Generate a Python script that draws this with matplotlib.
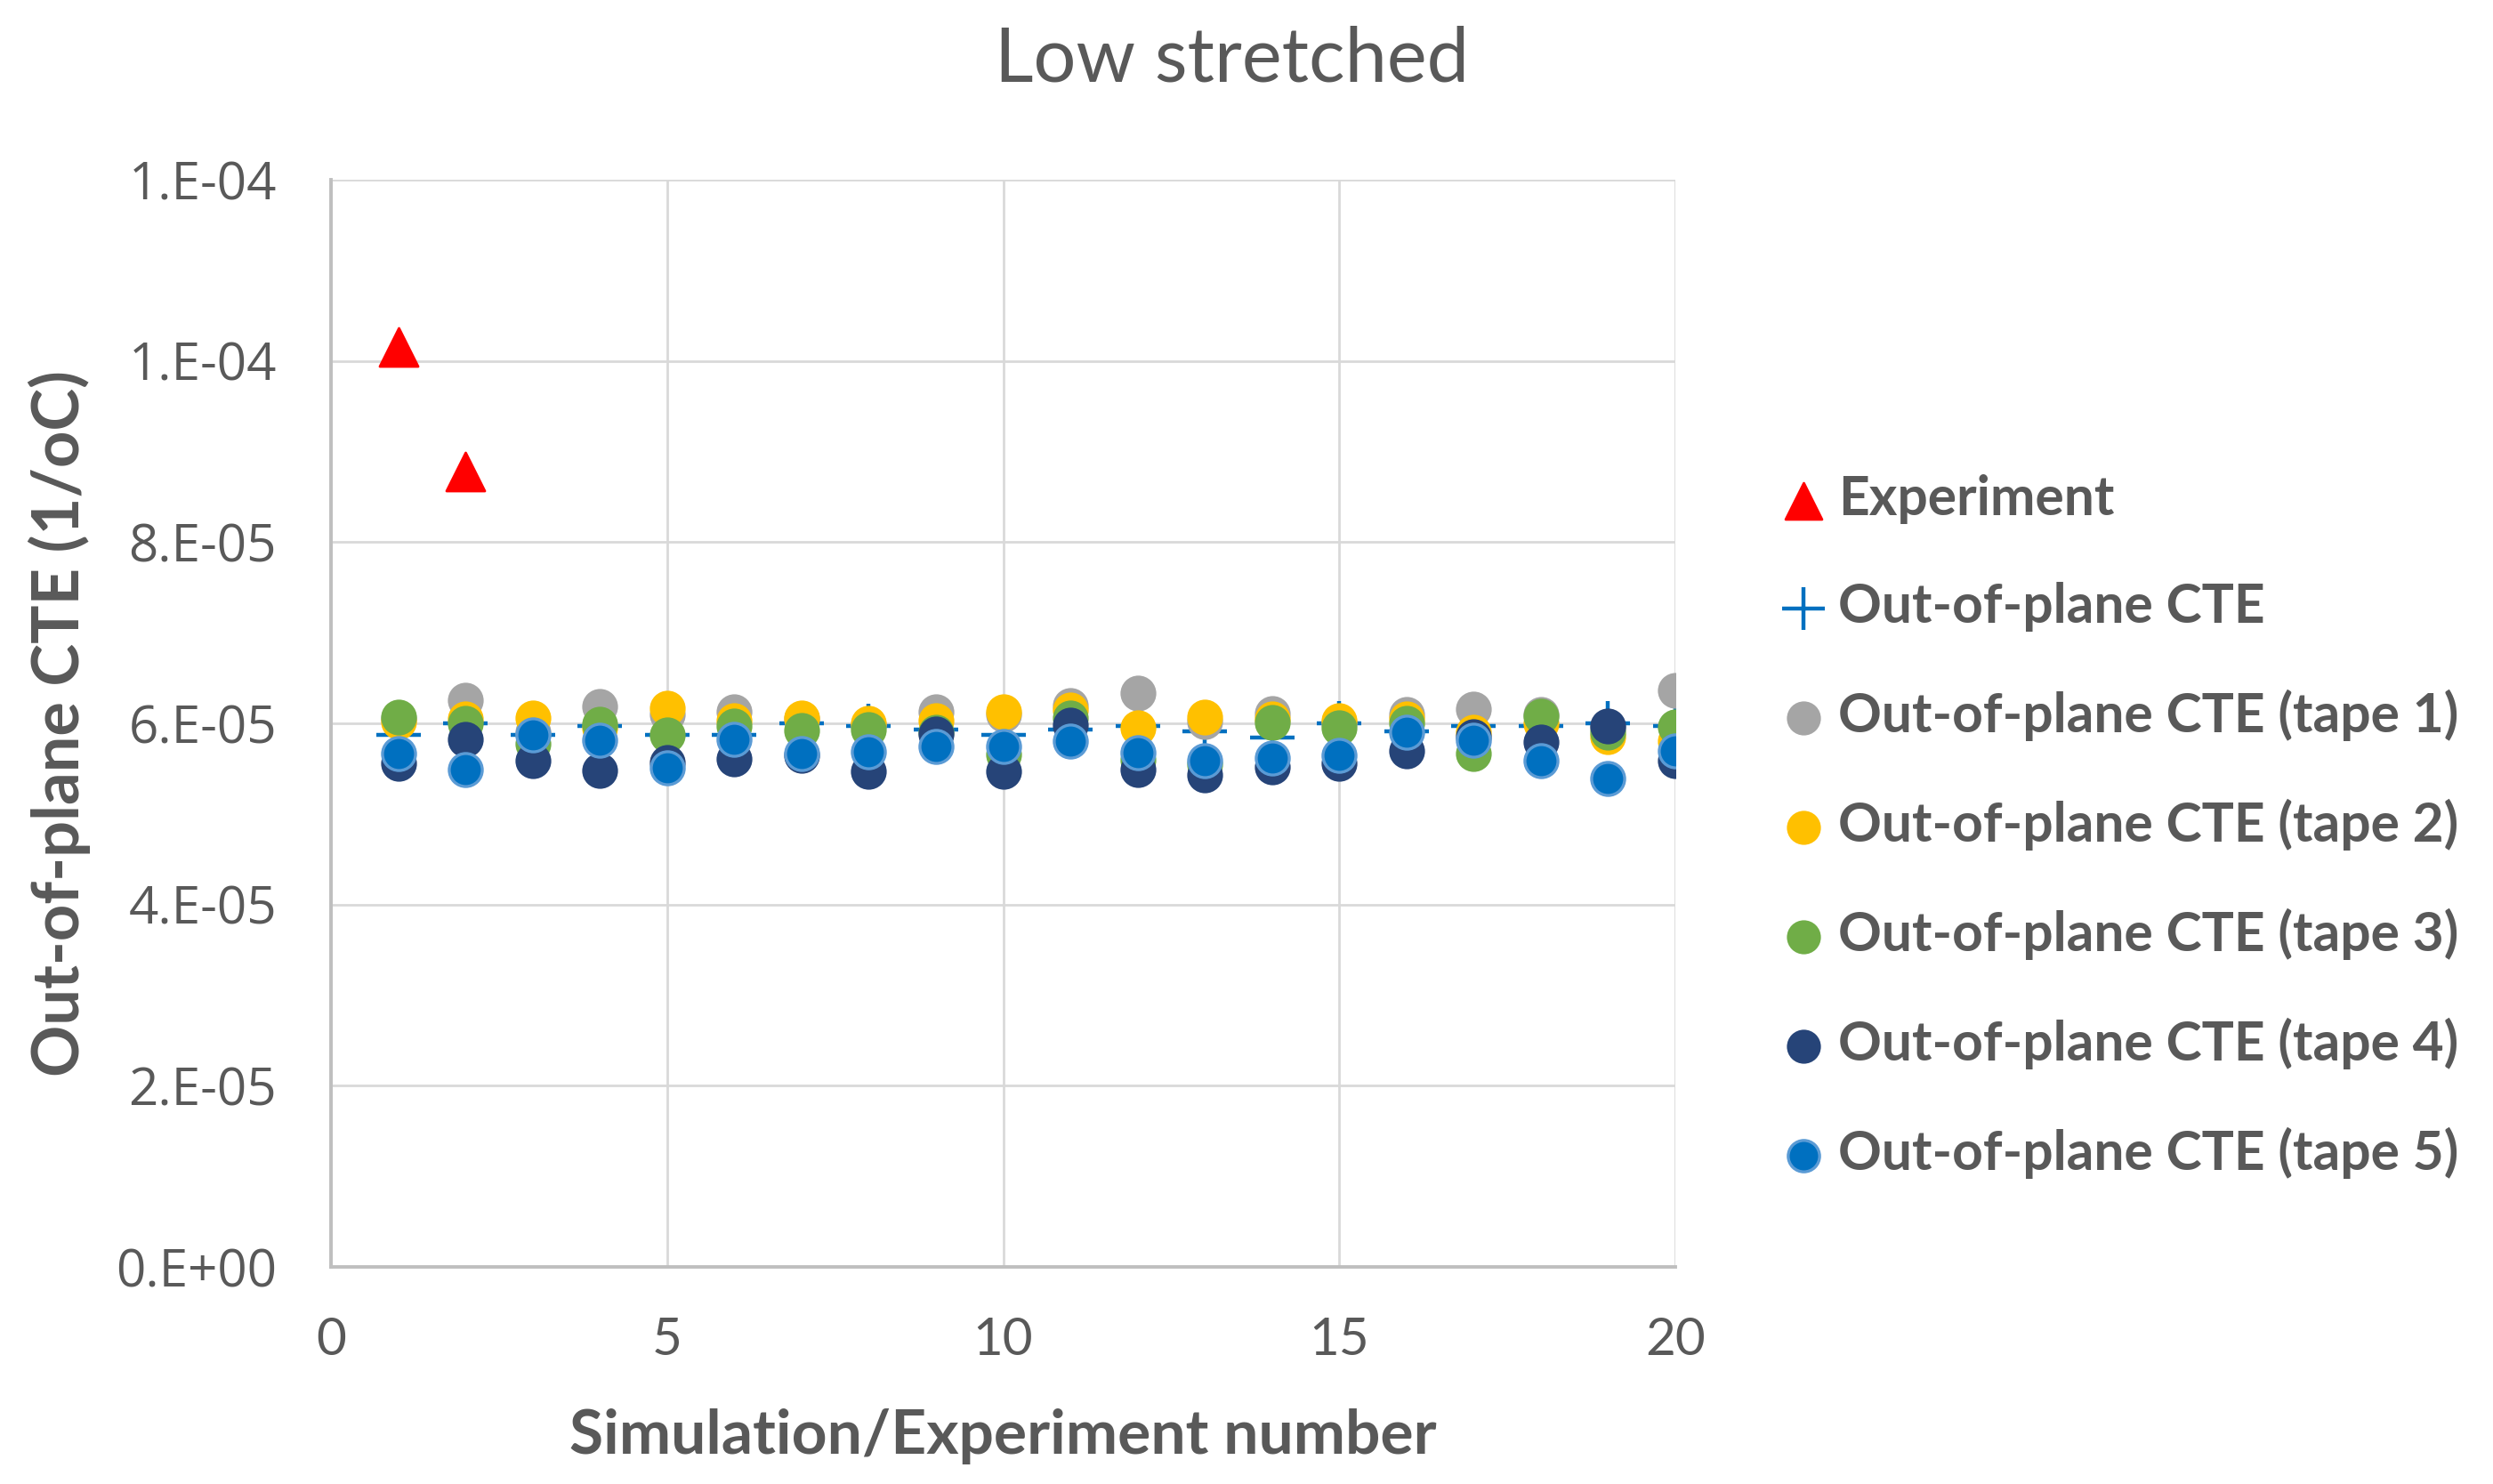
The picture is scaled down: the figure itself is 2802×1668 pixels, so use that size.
import matplotlib
matplotlib.use("Agg")
import matplotlib.pyplot as plt
from matplotlib.ticker import FuncFormatter, MultipleLocator

x_sim = list(range(1, 21))
x_exp = [1, 2]
experiment = [10.15e-5, 8.78e-5]
cte_mean = [5.87e-5, 6.00e-5, 5.87e-5, 5.97e-5, 5.87e-5, 5.87e-5, 6.00e-5, 5.97e-5, 5.93e-5, 5.87e-5,
            5.93e-5, 5.97e-5, 5.91e-5, 5.84e-5, 6.00e-5, 5.91e-5, 5.97e-5, 5.97e-5, 6.00e-5, 5.97e-5]
tape1 = [6.05e-5, 6.26e-5, 5.90e-5, 6.19e-5, 6.10e-5, 6.13e-5, 6.05e-5, 5.98e-5, 6.13e-5, 6.10e-5,
         6.20e-5, 6.33e-5, 6.02e-5, 6.11e-5, 6.00e-5, 6.10e-5, 6.16e-5, 6.10e-5, 5.95e-5, 6.36e-5]
tape2 = [6.02e-5, 6.05e-5, 6.06e-5, 5.95e-5, 6.17e-5, 6.03e-5, 6.06e-5, 6.00e-5, 6.03e-5, 6.13e-5,
         6.15e-5, 5.95e-5, 6.07e-5, 6.05e-5, 6.03e-5, 6.05e-5, 5.90e-5, 6.00e-5, 5.85e-5, 5.80e-5]
tape3 = [6.07e-5, 6.00e-5, 5.77e-5, 5.99e-5, 5.87e-5, 5.97e-5, 5.92e-5, 5.93e-5, 5.90e-5, 5.66e-5,
         6.06e-5, 5.60e-5, 5.55e-5, 6.01e-5, 5.95e-5, 6.00e-5, 5.67e-5, 6.08e-5, 5.90e-5, 5.96e-5]
tape4 = [5.56e-5, 5.82e-5, 5.59e-5, 5.48e-5, 5.57e-5, 5.61e-5, 5.65e-5, 5.47e-5, 5.88e-5, 5.47e-5,
         5.98e-5, 5.49e-5, 5.43e-5, 5.52e-5, 5.56e-5, 5.70e-5, 5.85e-5, 5.79e-5, 5.97e-5, 5.59e-5]
tape5 = [5.67e-5, 5.49e-5, 5.87e-5, 5.81e-5, 5.51e-5, 5.82e-5, 5.67e-5, 5.69e-5, 5.74e-5, 5.74e-5,
         5.80e-5, 5.68e-5, 5.59e-5, 5.62e-5, 5.65e-5, 5.90e-5, 5.81e-5, 5.59e-5, 5.39e-5, 5.70e-5]

labels = ["Experiment", "Out-of-plane CTE", "Out-of-plane CTE (tape 1)", "Out-of-plane CTE (tape 2)",
          "Out-of-plane CTE (tape 3)", "Out-of-plane CTE (tape 4)", "Out-of-plane CTE (tape 5)"]

plt.rcParams['font.family'] = ['Lato', 'DejaVu Sans']
txt = '#595959'

fig = plt.figure(figsize=(14.01, 8.34), dpi=200)
ax = fig.add_axes([0.1328, 0.1463, 0.5392, 0.7326])

s_c = 210
ax.scatter(x_exp, experiment, marker='^', s=240, color='#FF0000', label=labels[0], zorder=3)
ax.scatter(x_sim, cte_mean, marker='+', s=330, color='#0070C0', linewidths=1.6, label=labels[1], zorder=3)
ax.scatter(x_sim, tape1, s=s_c, color='#A5A5A5', label=labels[2], zorder=4, linewidths=0)
ax.scatter(x_sim, tape2, s=s_c, color='#FFC000', label=labels[3], zorder=4, linewidths=0)
ax.scatter(x_sim, tape3, s=s_c, color='#70AD47', label=labels[4], zorder=4, linewidths=0)
ax.scatter(x_sim, tape4, s=s_c, color='#264478', label=labels[5], zorder=4, linewidths=0)
ax.scatter(x_sim, tape5, s=s_c * 0.85, color='#0070C0', edgecolors='#5B9BD5', linewidths=1.2,
           label=labels[6], zorder=4)

ax.set_xlim(0, 20)
ax.set_ylim(0, 1.2e-4)
ax.xaxis.set_major_locator(MultipleLocator(5))
ax.yaxis.set_major_locator(MultipleLocator(2e-5))
ax.yaxis.set_major_formatter(FuncFormatter(lambda v, p: ('%.0E' % v).replace('E', '.E', 1)))
ax.grid(True, color='#D9D9D9', linewidth=1.0, zorder=0)
ax.set_axisbelow(True)
for sp in ['top', 'right']:
    ax.spines[sp].set_visible(False)
for sp in ['left', 'bottom']:
    ax.spines[sp].set_color('#BFBFBF')
    ax.spines[sp].set_linewidth(1.4)
ax.tick_params(axis='y', length=0, pad=22, labelsize=21, colors=txt)
ax.tick_params(axis='x', length=0, pad=20, labelsize=21, colors=txt)
for lab in ax.get_yticklabels():
    lab.set_fontfamily(['Open Sans', 'DejaVu Sans'])
ax.set_xlabel("Simulation/Experiment number", fontsize=25, fontweight='bold', color=txt, labelpad=18)
ax.set_ylabel("Out-of-plane CTE (1/oC)", fontsize=26, fontweight='bold', color=txt, labelpad=10)
fig.suptitle("Low stretched", x=0.494, y=0.983, fontsize=30.5, color=txt)

leg = ax.legend(loc='center left', bbox_to_anchor=(1.037, 0.405), frameon=False, fontsize=21.8,
                handletextpad=0.1, labelspacing=1.07, handlelength=1.1, markerscale=0.95)
for t in leg.get_texts():
    t.set_color(txt)
    t.set_fontweight('bold')

fig.savefig("out.png", dpi=200)
